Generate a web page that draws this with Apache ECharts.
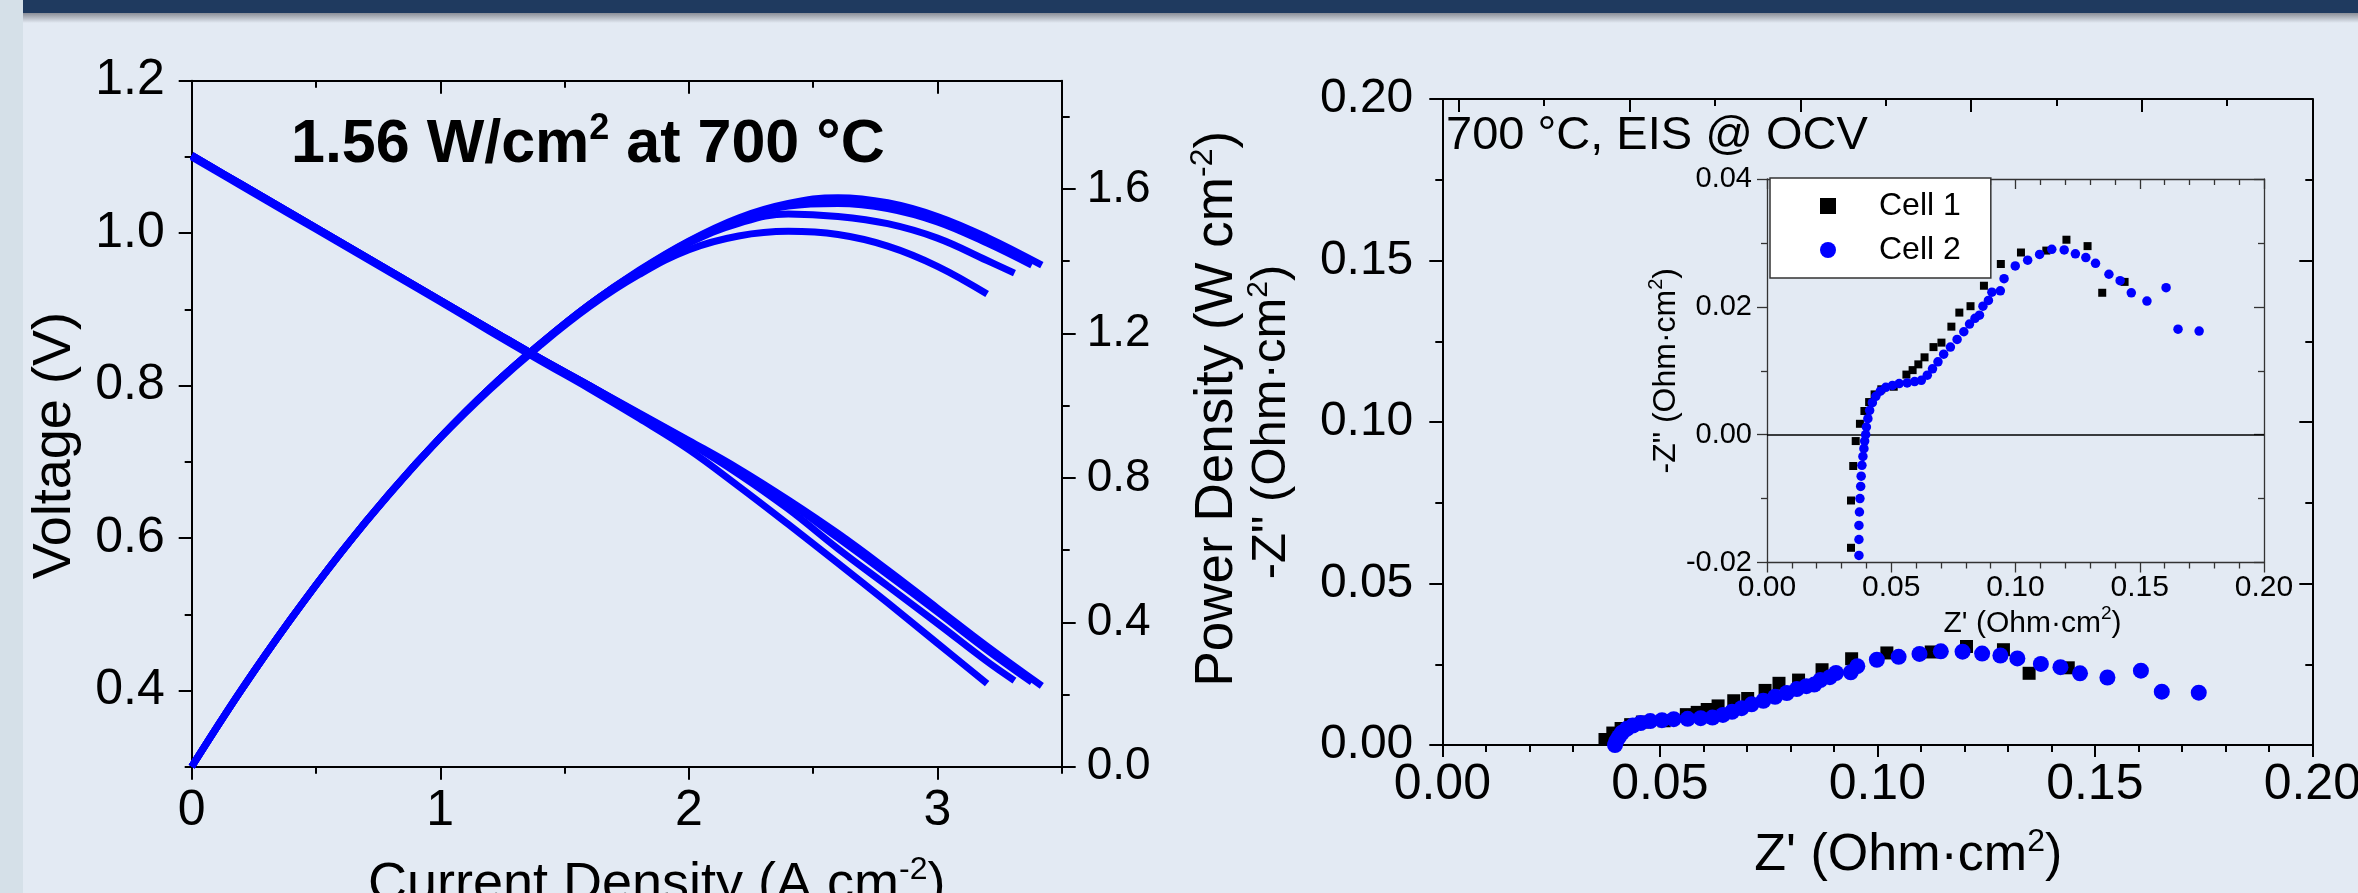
<!DOCTYPE html>
<html><head><meta charset="utf-8">
<script src="https://cdn.jsdelivr.net/npm/echarts@6/dist/echarts.min.js"></script>
<style>html,body{margin:0;padding:0;background:#E3EAF3;overflow:hidden}#c{width:2358px;height:893px}</style>
</head><body><div id="c"></div>
<script>
// ---------- Left panel: I-V and power curves (current in A cm^-2) ----------
const ivCurrent1 = [0, 0.2, 0.4, 0.6, 0.8, 1.0, 1.2, 1.4, 1.6, 1.8, 2.0, 2.2, 2.4, 2.6, 2.8, 3.0, 3.2, 3.42];
const ivVoltage1 = [1.102, 1.064, 1.026, 0.988, 0.950, 0.912, 0.874, 0.836, 0.800, 0.764, 0.728, 0.691, 0.650, 0.606, 0.558, 0.508, 0.458, 0.406];
const ivPower1   = [0, 0.213, 0.410, 0.593, 0.760, 0.912, 1.049, 1.170, 1.280, 1.375, 1.456, 1.520, 1.560, 1.576, 1.562, 1.524, 1.466, 1.389];

const ivCurrent2 = [0, 0.2, 0.4, 0.6, 0.8, 1.0, 1.2, 1.4, 1.6, 1.8, 2.0, 2.2, 2.4, 2.6, 2.8, 3.0, 3.2, 3.38];
const ivVoltage2 = [1.102, 1.064, 1.026, 0.988, 0.950, 0.912, 0.874, 0.836, 0.800, 0.763, 0.727, 0.689, 0.647, 0.600, 0.552, 0.503, 0.453, 0.411];
const ivPower2   = [0, 0.213, 0.410, 0.593, 0.760, 0.912, 1.049, 1.170, 1.280, 1.373, 1.454, 1.516, 1.553, 1.560, 1.546, 1.509, 1.450, 1.389];

const ivCurrent3 = [0, 0.2, 0.4, 0.6, 0.8, 1.0, 1.2, 1.4, 1.6, 1.8, 2.0, 2.2, 2.4, 2.6, 2.8, 3.0, 3.2, 3.31];
const ivVoltage3 = [1.102, 1.064, 1.026, 0.988, 0.950, 0.912, 0.874, 0.836, 0.800, 0.762, 0.725, 0.684, 0.638, 0.586, 0.537, 0.488, 0.438, 0.413];
const ivPower3   = [0, 0.213, 0.410, 0.593, 0.760, 0.912, 1.049, 1.170, 1.280, 1.372, 1.450, 1.505, 1.531, 1.524, 1.504, 1.464, 1.402, 1.367];

const ivCurrent4 = [0, 0.2, 0.4, 0.6, 0.8, 1.0, 1.2, 1.4, 1.6, 1.8, 2.0, 2.2, 2.4, 2.6, 2.8, 3.0, 3.2];
const ivVoltage4 = [1.100, 1.062, 1.024, 0.986, 0.948, 0.910, 0.871, 0.833, 0.796, 0.757, 0.716, 0.668, 0.618, 0.567, 0.515, 0.462, 0.409];
const ivPower4   = [0, 0.212, 0.410, 0.592, 0.758, 0.910, 1.045, 1.166, 1.274, 1.363, 1.432, 1.470, 1.483, 1.474, 1.442, 1.386, 1.309];

const currentTicks = [0, 1, 2, 3];
const currentMinorTicks = [0.5, 1.5, 2.5, 3.5];
const voltageTicks = [0.4, 0.6, 0.8, 1.0, 1.2];
const voltageMinorTicks = [0.3, 0.5, 0.7, 0.9, 1.1];
const powerTicks = [0, 0.4, 0.8, 1.2, 1.6];
const powerMinorTicks = [0.2, 0.6, 1.0, 1.4, 1.8];

// ---------- Right panel: EIS at OCV (Ohm cm^2) ----------
const cell1Zre = [0.0338, 0.0338, 0.0347, 0.0357, 0.0374, 0.0392, 0.0411, 0.0433, 0.0460, 0.0510, 0.0561, 0.0586, 0.0609, 0.0634, 0.0670, 0.0702, 0.0742, 0.0774, 0.0819, 0.0873, 0.0941, 0.1022, 0.1124, 0.1205, 0.1290, 0.1349, 0.1439];
const cell1Zim = [-0.0177, -0.0103, -0.0049, -0.0010, 0.0017, 0.0037, 0.0051, 0.0063, 0.0071, 0.0075, 0.0094, 0.0101, 0.0110, 0.0121, 0.0137, 0.0144, 0.0169, 0.0191, 0.0201, 0.0233, 0.0267, 0.0285, 0.0288, 0.0305, 0.0295, 0.0222, 0.0239];

const cell2Zre = [0.0370, 0.0370, 0.0370, 0.0372, 0.0374, 0.0377, 0.0379, 0.0382, 0.0386, 0.0390, 0.0393, 0.0397, 0.0400, 0.0406, 0.0413, 0.0424, 0.0438, 0.0456, 0.0478, 0.0505, 0.0532, 0.0564, 0.0594, 0.0621, 0.0645, 0.0666, 0.0688, 0.0711, 0.0738, 0.0765, 0.0792, 0.0815, 0.0837, 0.0855, 0.0869, 0.0891, 0.0905, 0.0939, 0.0954, 0.0999, 0.1049, 0.1097, 0.1146, 0.1196, 0.1241, 0.1283, 0.1322, 0.1376, 0.1421, 0.1466, 0.1529, 0.1606, 0.1654, 0.1739];
const cell2Zim = [-0.0189, -0.0164, -0.0142, -0.0121, -0.0100, -0.0081, -0.0065, -0.0048, -0.0034, -0.0022, -0.0010, 0.0000, 0.0012, 0.0025, 0.0038, 0.0050, 0.0060, 0.0068, 0.0074, 0.0077, 0.0080, 0.0081, 0.0083, 0.0085, 0.0093, 0.0103, 0.0114, 0.0126, 0.0137, 0.0149, 0.0161, 0.0173, 0.0182, 0.0187, 0.0201, 0.0210, 0.0223, 0.0225, 0.0244, 0.0264, 0.0273, 0.0282, 0.0290, 0.0289, 0.0283, 0.0277, 0.0268, 0.0251, 0.0241, 0.0222, 0.0209, 0.0230, 0.0165, 0.0162];

const topTicksLong = [0.0037, 0.0430, 0.0823, 0.1215, 0.1608];
const topTicksShort = [0.0234, 0.0626, 0.1019, 0.1412, 0.1803];

const seriesNames = ['Cell 1', 'Cell 2'];

// ---------- build ----------
const F = '"Liberation Sans", Arial, Helvetica, sans-serif';
const BLUE = '#0000FF';
const zip = (a, b) => a.map((v, i) => [v, b[i]]);
const richName = (size, supSize) => ({
  n: { fontSize: size, fontFamily: F, color: '#000', lineHeight: size + 8 },
  s: { fontSize: supSize, fontFamily: F, color: '#000', verticalAlign: 'top', lineHeight: supSize }
});
const AX = { color: '#000', width: 2 };
const INS = { color: '#333', width: 1.3 };

function minorAxis(base) {
  return Object.assign({
    type: 'value', axisLine: { show: false, onZero: false }, axisLabel: { show: false }, splitLine: { show: false }
  }, base);
}

const chart = echarts.init(document.getElementById('c'), null, { renderer: 'canvas' });

const option = {
  animation: false,
  backgroundColor: '#E3EAF3',
  graphic: [
    { type: 'rect', shape: { x: 0, y: 0, width: 23, height: 893 }, style: { fill: '#D5E0E8' }, z: -5 },
    { type: 'rect', shape: { x: 23, y: 13, width: 2335, height: 10 }, style: {
        fill: new echarts.graphic.LinearGradient(0, 0, 0, 1, [
          { offset: 0, color: 'rgba(30,30,40,0.45)' }, { offset: 1, color: 'rgba(30,30,40,0)' }]) }, z: -4 },
    { type: 'rect', shape: { x: 23, y: 0, width: 2335, height: 13 }, style: { fill: '#1F3A5F' }, z: -3 }
  ],
  title: [
    { text: '{a|1.56 W/cm}{s|2}{a| at 700 °C}', left: 291, top: 111, padding: 0,
      textStyle: { rich: {
        a: { fontSize: 61, fontWeight: 'bold', fontFamily: F, color: '#000', lineHeight: 68 },
        s: { fontSize: 36, fontWeight: 'bold', fontFamily: F, color: '#000', verticalAlign: 'top', lineHeight: 34 } } } },
    { text: '700 °C, EIS @ OCV', left: 1446, top: 113, padding: 0,
      textStyle: { fontSize: 47, fontWeight: 'normal', fontFamily: F, color: '#000' } }
  ],
  legend: {
    data: seriesNames, orient: 'vertical', left: 1770, top: 178,
    padding: [12, 30, 12, 50], itemWidth: 16, itemHeight: 16, itemGap: 12,
    backgroundColor: '#FFFFFF', borderColor: '#333', borderWidth: 1.5, borderRadius: 0,
    selectedMode: false,
    textStyle: { fontSize: 32, fontFamily: F, color: '#000', padding: [0, 0, 0, 38] }
  },
  grid: [
    { left: 191.7, top: 80.7, width: 870, height: 686, containLabel: false, outerBoundsMode: 'none' },
    { left: 1442.3, top: 99, width: 870, height: 646, containLabel: false, outerBoundsMode: 'none' },
    { left: 1767, top: 179, width: 497, height: 383.5, containLabel: false, outerBoundsMode: 'none' }
  ],
  xAxis: [
    { gridIndex: 0, type: 'value', position: 'bottom', min: 0, max: 3.5,
      axisLine: { onZero: false, lineStyle: AX },
      axisTick: { customValues: currentTicks, length: 13, lineStyle: AX },
      axisLabel: { customValues: currentTicks, fontSize: 50, fontFamily: F, color: '#000', margin: 20 },
      splitLine: { show: false },
      name: '{n|Current Density (A cm}{s|-2}{n|)}', nameLocation: 'middle', nameGap: 87,
      nameTextStyle: { padding: [0, 0, 0, 60], rich: richName(54, 32) } },
    minorAxis({ gridIndex: 0, position: 'bottom', min: 0, max: 3.5,
      axisTick: { customValues: currentMinorTicks, length: 7, lineStyle: AX } }),
    { gridIndex: 0, type: 'value', position: 'top', min: 0, max: 3.5,
      axisLine: { onZero: false, lineStyle: AX },
      axisTick: { customValues: currentTicks, inside: true, length: 13, lineStyle: AX },
      axisLabel: { show: false }, splitLine: { show: false } },
    minorAxis({ gridIndex: 0, position: 'top', min: 0, max: 3.5,
      axisTick: { customValues: currentMinorTicks, inside: true, length: 7, lineStyle: AX } }),
    // right main
    { gridIndex: 1, type: 'value', position: 'bottom', min: 0, max: 0.2, interval: 0.05,
      axisLine: { onZero: false, lineStyle: AX },
      axisTick: { length: 12, lineStyle: AX },
      minorTick: { show: true, splitNumber: 5, length: 7, lineStyle: AX },
      axisLabel: { fontSize: 50, fontFamily: F, color: '#000', margin: 15, formatter: v => v.toFixed(2) },
      splitLine: { show: false }, minorSplitLine: { show: false },
      name: '{n|Z\' (Ohm·cm}{s|2}{n|)}', nameLocation: 'middle', nameGap: 81,
      nameTextStyle: { padding: [0, 0, 0, 62], rich: richName(52, 32) } },
    { gridIndex: 1, type: 'value', position: 'top', min: 0, max: 0.2,
      axisLine: { onZero: false, lineStyle: AX },
      axisTick: { customValues: topTicksLong, inside: true, length: 13, lineStyle: AX },
      axisLabel: { show: false }, splitLine: { show: false } },
    minorAxis({ gridIndex: 1, position: 'top', min: 0, max: 0.2,
      axisTick: { customValues: topTicksShort, inside: true, length: 7, lineStyle: AX } }),
    // inset
    { gridIndex: 2, type: 'value', position: 'bottom', min: 0, max: 0.2, interval: 0.05,
      axisLine: { onZero: false, lineStyle: INS },
      axisTick: { length: 10, lineStyle: INS },
      minorTick: { show: true, splitNumber: 5, length: 6, lineStyle: INS },
      axisLabel: { fontSize: 30, fontFamily: F, color: '#000', margin: 10, formatter: v => v.toFixed(2) },
      splitLine: { show: false }, minorSplitLine: { show: false },
      name: '{n|Z\' (Ohm·cm}{s|2}{n|)}', nameLocation: 'middle', nameGap: 42,
      nameTextStyle: { padding: [0, 0, 0, 34], rich: richName(30, 19) } },
    { gridIndex: 2, type: 'value', position: 'top', min: 0, max: 0.2, interval: 0.05,
      axisLine: { onZero: false, lineStyle: INS },
      axisTick: { inside: true, length: 10, lineStyle: INS },
      minorTick: { show: true, splitNumber: 5, length: 6, lineStyle: INS },
      axisLabel: { show: false }, splitLine: { show: false }, minorSplitLine: { show: false } }
  ],
  yAxis: [
    { gridIndex: 0, type: 'value', position: 'left', min: 0.3, max: 1.2,
      axisLine: { onZero: false, lineStyle: AX },
      axisTick: { customValues: voltageTicks, length: 13, lineStyle: AX },
      axisLabel: { customValues: voltageTicks, fontSize: 50, fontFamily: F, color: '#000', margin: 27, formatter: v => v.toFixed(1) },
      splitLine: { show: false },
      name: 'Voltage (V)', nameLocation: 'middle', nameRotate: 90, nameGap: 110,
      nameTextStyle: { fontSize: 54, fontFamily: F, color: '#000', padding: [0, 44, 0, 0] } },
    minorAxis({ gridIndex: 0, position: 'left', min: 0.3, max: 1.2,
      axisTick: { customValues: voltageMinorTicks, length: 7, lineStyle: AX } }),
    { gridIndex: 0, type: 'value', position: 'right', min: 0, max: 1.9,
      axisLine: { onZero: false, lineStyle: AX },
      axisTick: { customValues: powerTicks, length: 14, lineStyle: AX },
      axisLabel: { customValues: powerTicks, fontSize: 46, fontFamily: F, color: '#000', margin: 25, formatter: v => v.toFixed(1) },
      splitLine: { show: false },
      name: '{n|Power Density (W cm}{s|-2}{n|)}', nameLocation: 'middle', nameRotate: 90, nameGap: 125,
      nameTextStyle: { padding: [0, 0, 0, 30], rich: richName(53, 32) } },
    minorAxis({ gridIndex: 0, position: 'right', min: 0, max: 1.9,
      axisTick: { customValues: powerMinorTicks, length: 8, lineStyle: AX } }),
    // right main
    { gridIndex: 1, type: 'value', position: 'left', min: 0, max: 0.2, interval: 0.05,
      axisLine: { onZero: false, lineStyle: AX },
      axisTick: { length: 13, lineStyle: AX },
      minorTick: { show: true, splitNumber: 2, length: 7, lineStyle: AX },
      axisLabel: { fontSize: 48, fontFamily: F, color: '#000', margin: 29, formatter: v => v.toFixed(2) },
      splitLine: { show: false }, minorSplitLine: { show: false },
      name: '{n|-Z" (Ohm·cm}{s|2}{n|)}', nameLocation: 'middle', nameRotate: 90, nameGap: 142,
      nameTextStyle: { rich: richName(49, 30) } },
    { gridIndex: 1, type: 'value', position: 'right', min: 0, max: 0.2, interval: 0.05,
      axisLine: { onZero: false, lineStyle: AX },
      axisTick: { inside: true, length: 13, lineStyle: AX },
      minorTick: { show: true, splitNumber: 2, length: 7, lineStyle: AX },
      axisLabel: { show: false }, splitLine: { show: false }, minorSplitLine: { show: false } },
    // inset
    { gridIndex: 2, type: 'value', position: 'left', min: -0.02, max: 0.04, interval: 0.02,
      axisLine: { onZero: false, lineStyle: INS },
      axisTick: { length: 10, lineStyle: INS },
      minorTick: { show: true, splitNumber: 2, length: 6, lineStyle: INS },
      axisLabel: { fontSize: 29, fontFamily: F, color: '#000', margin: 15, formatter: v => v.toFixed(2) },
      splitLine: { show: false }, minorSplitLine: { show: false },
      name: '{n|-Z" (Ohm·cm}{s|2}{n|)}', nameLocation: 'middle', nameRotate: 90, nameGap: 57,
      nameTextStyle: { rich: richName(32, 20) } },
    { gridIndex: 2, type: 'value', position: 'right', min: -0.02, max: 0.04, interval: 0.02,
      axisLine: { onZero: false, lineStyle: INS },
      axisTick: { inside: true, length: 10, lineStyle: INS },
      minorTick: { show: true, splitNumber: 2, length: 6, lineStyle: INS },
      axisLabel: { show: false }, splitLine: { show: false }, minorSplitLine: { show: false } }
  ],
  series: []
};

const ivSets = [
  [ivCurrent1, ivVoltage1, ivPower1],
  [ivCurrent2, ivVoltage2, ivPower2],
  [ivCurrent3, ivVoltage3, ivPower3],
  [ivCurrent4, ivVoltage4, ivPower4]
];
ivSets.forEach(([I, V, P], k) => {
  option.series.push({ type: 'line', name: 'V' + k, xAxisIndex: 0, yAxisIndex: 0, data: zip(I, V),
    showSymbol: false, smooth: 0.4, lineStyle: { color: BLUE, width: 7 }, itemStyle: { color: BLUE }, z: 3 });
  option.series.push({ type: 'line', name: 'P' + k, xAxisIndex: 0, yAxisIndex: 2, data: zip(I, P),
    showSymbol: false, smooth: 0.4, lineStyle: { color: BLUE, width: 7 }, itemStyle: { color: BLUE }, z: 3 });
});

option.series.push(
  { type: 'scatter', name: seriesNames[0], xAxisIndex: 4, yAxisIndex: 4, data: zip(cell1Zre, cell1Zim),
    symbol: 'rect', symbolSize: 13, itemStyle: { color: '#000', opacity: 1 }, clip: true, z: 3 },
  { type: 'scatter', name: seriesNames[1], xAxisIndex: 4, yAxisIndex: 4, data: zip(cell2Zre, cell2Zim),
    symbol: 'circle', symbolSize: 16, itemStyle: { color: BLUE, opacity: 1 }, clip: true, z: 4 },
  { type: 'scatter', name: seriesNames[0], xAxisIndex: 7, yAxisIndex: 6, data: zip(cell1Zre, cell1Zim),
    symbol: 'rect', symbolSize: 8, itemStyle: { color: '#000', opacity: 1 }, clip: true, z: 5 },
  { type: 'scatter', name: seriesNames[1], xAxisIndex: 7, yAxisIndex: 6, data: zip(cell2Zre, cell2Zim),
    symbol: 'circle', symbolSize: 9.5, itemStyle: { color: BLUE, opacity: 1 }, clip: true, z: 6,
    markLine: { silent: true, symbol: 'none', label: { show: false }, animation: false,
      lineStyle: { color: '#000', width: 1.5, type: 'solid' }, data: [{ yAxis: 0 }] } }
);

chart.setOption(option);
</script></body></html>
